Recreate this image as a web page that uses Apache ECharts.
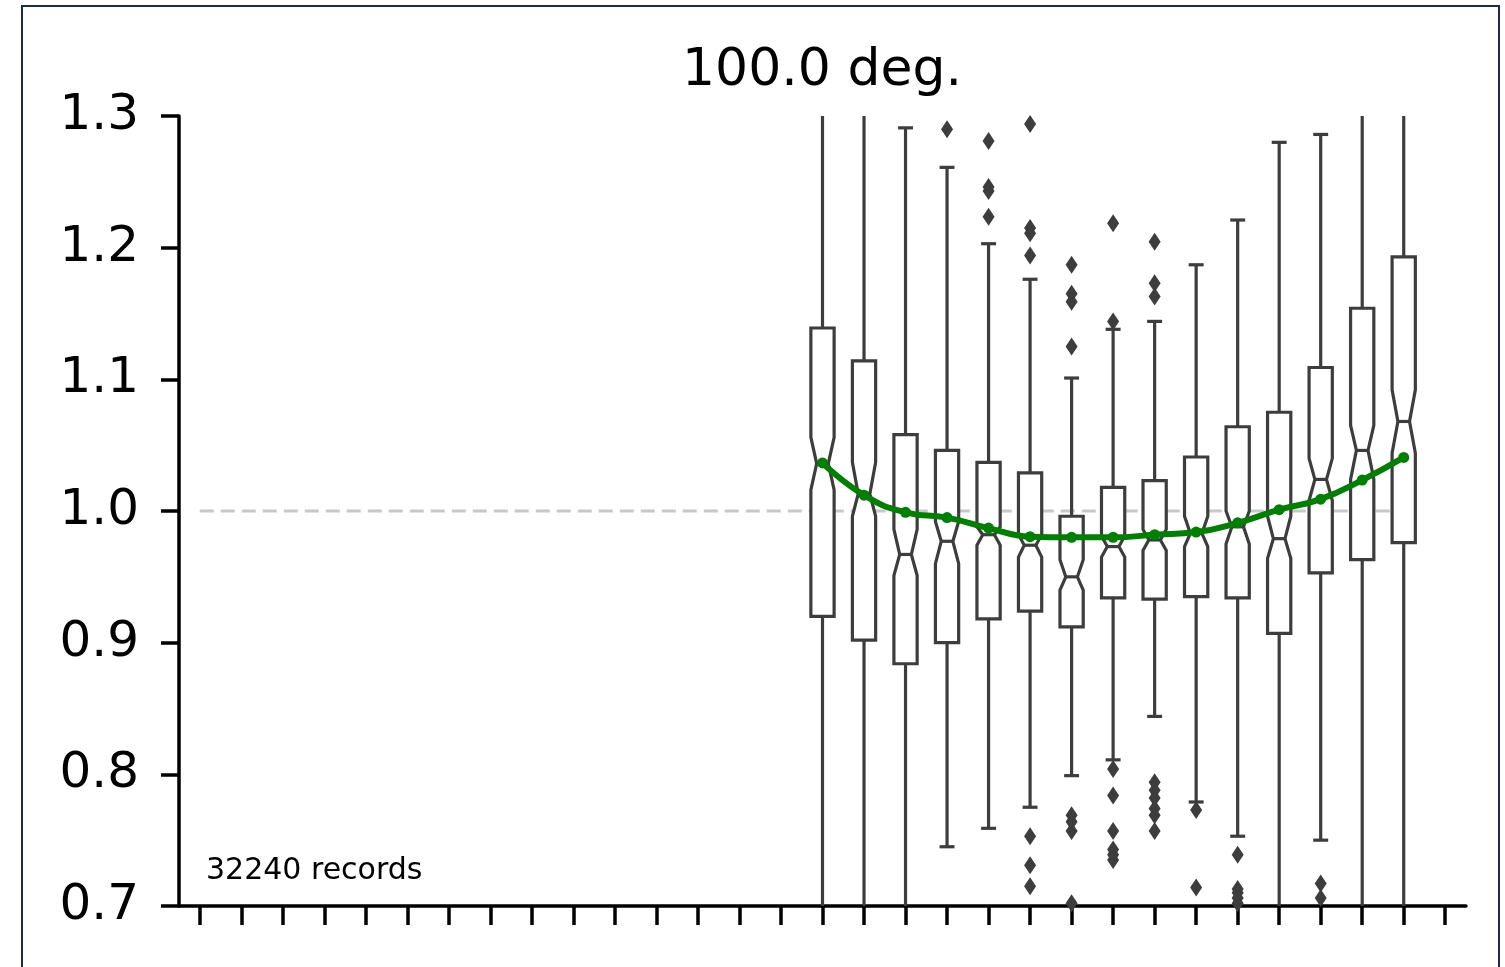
<!DOCTYPE html>
<html>
<head>
<meta charset="utf-8">
<script src="https://cdn.jsdelivr.net/npm/echarts/dist/echarts.min.js"></script>
<style>
  html, body { margin: 0; padding: 0; background: #fff; }
  #main { width: 1505px; height: 967px; }
</style>
</head>
<body>
<div id="main"></div>
<script>
// 31 slots on the x axis, only the last ones hold data
const categories = Array.from({ length: 31 }, (_, i) => String(i));
const yTicks = [0.7, 0.8, 0.9, 1.0, 1.1, 1.2, 1.3];

const boxIndex    = [15, 16, 17, 18, 19, 20, 21, 22, 23, 24, 25, 26, 27, 28, 29];
const whiskerLow  = [0.60, 0.60, 0.60, 0.745, 0.759, 0.775, 0.799, 0.811, 0.844, 0.779, 0.753, 0.60, 0.750, 0.60, 0.60];
const q1          = [0.920, 0.902, 0.884, 0.900, 0.918, 0.924, 0.912, 0.934, 0.933, 0.935, 0.934, 0.907, 0.953, 0.963, 0.976];
const notchLow    = [1.016, 0.996, 0.951, 0.960, 0.974, 0.965, 0.940, 0.965, 0.970, 0.973, 0.975, 0.964, 1.008, 1.024, 1.044];
const median      = [1.036, 1.013, 0.967, 0.977, 0.982, 0.974, 0.950, 0.973, 0.978, 0.983, 0.988, 0.979, 1.024, 1.046, 1.068];
const notchHigh   = [1.056, 1.037, 0.986, 0.992, 0.988, 0.982, 0.963, 0.981, 0.986, 0.996, 1.000, 0.996, 1.040, 1.065, 1.092];
const q3          = [1.139, 1.114, 1.058, 1.046, 1.037, 1.029, 0.996, 1.018, 1.023, 1.041, 1.064, 1.075, 1.109, 1.154, 1.193];
const whiskerHigh = [1.40, 1.40, 1.291, 1.261, 1.203, 1.176, 1.101, 1.138, 1.144, 1.187, 1.221, 1.280, 1.286, 1.40, 1.40];

// fitted curve through the boxes
const trend = [1.0365, 1.012, 0.999, 0.995, 0.987, 0.9805, 0.980, 0.980, 0.982, 0.984, 0.991, 1.001, 1.009, 1.0235, 1.0407];

// outliers as [slot, value]
const outliers = [
    [18, 1.290],
    [19, 1.281], [19, 1.246], [19, 1.243], [19, 1.2235],
    [20, 1.294], [20, 1.215], [20, 1.211], [20, 1.194], [20, 0.753], [20, 0.731], [20, 0.715],
    [21, 1.187], [21, 1.165], [21, 1.159], [21, 1.125], [21, 0.769], [21, 0.764], [21, 0.757], [21, 0.702],
    [22, 1.2185], [22, 1.144], [22, 0.804], [22, 0.784], [22, 0.757], [22, 0.743], [22, 0.739], [22, 0.735],
    [23, 1.2045], [23, 1.173], [23, 1.163], [23, 0.794], [23, 0.788], [23, 0.782], [23, 0.774], [23, 0.769], [23, 0.757],
    [24, 0.773], [24, 0.714],
    [25, 0.739], [25, 0.713], [25, 0.710], [25, 0.706], [25, 0.702],
    [27, 0.717], [27, 0.706]
];

const refLine = [[0, 1.0], [29, 1.0]];
const recordsText = '32240 records';
const titleText = '100.0 deg.';

const boxColor = '#3d3d3d';
const font = 'DejaVu Sans';

const boxData = boxIndex.map((x, i) => [x, whiskerLow[i], q1[i], notchLow[i], median[i], notchHigh[i], q3[i], whiskerHigh[i]]);
const trendData = boxIndex.map((x, i) => [x, trend[i]]);

function renderBox(params, api) {
    const x = api.value(0);
    const band = api.size([1, 0])[0];
    const w = band * 0.28;
    const wn = w * 0.5;
    const cap = band * 0.18;
    const pt = v => api.coord([x, v]);
    const cx = pt(1)[0];
    const yWL = pt(api.value(1))[1], yQ1 = pt(api.value(2))[1], yNL = pt(api.value(3))[1];
    const yMed = pt(api.value(4))[1], yNH = pt(api.value(5))[1], yQ3 = pt(api.value(6))[1];
    const yWH = pt(api.value(7))[1];
    const line = { stroke: boxColor, lineWidth: 3.2, fill: null };
    return {
        type: 'group',
        children: [
            { type: 'line', shape: { x1: cx, y1: yQ3, x2: cx, y2: yWH }, style: line },
            { type: 'line', shape: { x1: cx - cap, y1: yWH, x2: cx + cap, y2: yWH }, style: line },
            { type: 'line', shape: { x1: cx, y1: yQ1, x2: cx, y2: yWL }, style: line },
            { type: 'line', shape: { x1: cx - cap, y1: yWL, x2: cx + cap, y2: yWL }, style: line },
            {
                type: 'polygon',
                shape: {
                    points: [
                        [cx - w, yQ3], [cx + w, yQ3], [cx + w, yNH], [cx + wn, yMed], [cx + w, yNL],
                        [cx + w, yQ1], [cx - w, yQ1], [cx - w, yNL], [cx - wn, yMed], [cx - w, yNH]
                    ]
                },
                style: { fill: '#ffffff', stroke: boxColor, lineWidth: 3.2 }
            },
            { type: 'line', shape: { x1: cx - wn, y1: yMed, x2: cx + wn, y2: yMed }, style: line }
        ]
    };
}

let myChart = echarts.init(document.getElementById('main'));

let option = {
    animation: false,
    grid: { left: 179, right: 39, top: 116, bottom: 61 },
    xAxis: {
        type: 'category',
        data: categories,
        boundaryGap: true,
        axisLine: { show: true, lineStyle: { color: '#000', width: 3.5 } },
        axisTick: { show: true, alignWithLabel: true, interval: 0, length: 19, lineStyle: { color: '#000', width: 3.5 } },
        axisLabel: { show: true, interval: 0, color: 'rgba(0,0,0,0)', formatter: () => '' },
        splitLine: { show: false }
    },
    yAxis: {
        type: 'value',
        min: yTicks[0],
        max: yTicks[yTicks.length - 1],
        interval: 0.1,
        axisLine: { show: true, lineStyle: { color: '#000', width: 3.5 } },
        axisTick: { show: true, length: 18, lineStyle: { color: '#000', width: 3.5 } },
        axisLabel: {
            fontFamily: font, fontSize: 50, color: '#000', margin: 40,
            padding: [10, 0, 0, 0],
            formatter: v => v.toFixed(1)
        },
        splitLine: { show: false }
    },
    graphic: [
        {
            type: 'rect', silent: true,
            shape: { x: 22, y: 6, width: 1477, height: 1000 },
            style: { fill: 'none', stroke: '#1c2955', lineWidth: 2 }
        },
        {
            type: 'text', x: 822, y: 97,
            style: { text: titleText, font: '52px "DejaVu Sans"', fill: '#000', align: 'center', verticalAlign: 'bottom', textAlign: 'center', textVerticalAlign: 'bottom' }
        },
        {
            type: 'text', x: 206, y: 886,
            style: { text: recordsText, font: '30px "DejaVu Sans"', fill: '#000', align: 'left', verticalAlign: 'bottom', textAlign: 'left', textVerticalAlign: 'bottom' }
        }
    ],
    series: [
        {
            type: 'line',
            data: refLine,
            symbol: 'none',
            z: 1,
            lineStyle: { color: '#c8c8c8', width: 3, type: [14, 7] }
        },
        {
            type: 'custom',
            data: boxData,
            renderItem: renderBox,
            clip: true,
            encode: { x: 0, y: [1, 2, 3, 4, 5, 6, 7] },
            z: 2
        },
        {
            type: 'scatter',
            data: outliers,
            symbol: 'diamond',
            symbolSize: [12, 18],
            itemStyle: { color: boxColor, opacity: 1 },
            z: 3
        },
        {
            type: 'line',
            data: trendData,
            smooth: true,
            symbol: 'circle',
            symbolSize: 11,
            z: 4,
            itemStyle: { color: '#008000' },
            lineStyle: { color: '#008000', width: 6 }
        }
    ]
};

myChart.setOption(option);
</script>
</body>
</html>
